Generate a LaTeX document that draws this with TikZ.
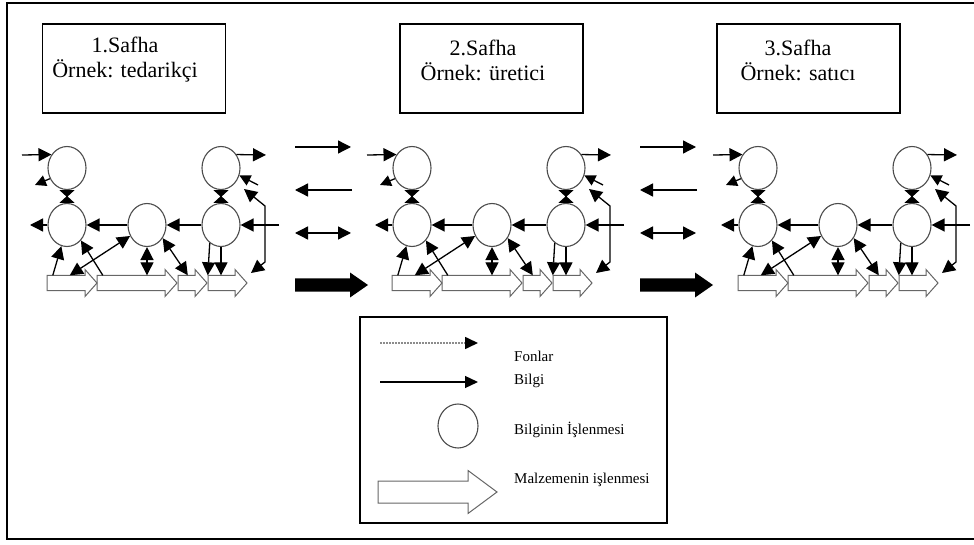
\documentclass[tikz,border=0pt]{standalone}
\usepackage{fontspec}
\setmainfont{Liberation Serif}
\usetikzlibrary{arrows.meta,shapes.geometric,calc}

% material flow arrow: name, x start, x tip, y centre, body half height, head half height, head length
\newcommand\matarr[7]{%
  \node[inner sep=0pt, minimum width={#3-#2}, minimum height={2*#5}] (#1) at ({(#2+#3)/2},#4) {};
  \draw[mat] (#2,#4-#5) -- (#3-#7,#4-#5) -- (#3-#7,#4-#6) -- (#3,#4)
    -- (#3-#7,#4+#6) -- (#3-#7,#4+#5) -- (#2,#4+#5) -- cycle;}

\tikzset{
  proc/.style={ellipse, draw=black!70, line width=1.1pt, fill=white,
    minimum width=38pt, minimum height=43pt, inner sep=0pt},
  info/.style={line width=1.3pt, -{Triangle[length=13pt,width=13pt]}},
  small/.style={line width=1.3pt, -{Triangle[length=11pt,width=11pt]}},
  infoboth/.style={line width=1.3pt,
    {Triangle[length=13pt,width=13pt]}-{Triangle[length=13pt,width=13pt]}},
  pinch/.style={line width=1.3pt,
    {Triangle[reversed,length=7pt,width=15pt]}-{Triangle[reversed,length=7pt,width=15pt]}},
  mat/.style={draw=black!60, line width=1pt, fill=white, line join=miter},
  stagebox/.style={draw, line width=1.7pt, minimum width=183pt,
    minimum height=89pt, inner sep=0pt},
  stagetext/.style={align=center, inner sep=0pt,
    font=\fontsize{22}{25}\selectfont},
  legtext/.style={anchor=west, inner sep=0pt,
    font=\fontsize{15}{17}\selectfont},
  funds/.style={draw=black!45, line width=1.6pt, dash pattern=on 2pt off 1pt,
    -{Triangle[length=13pt,width=12pt,black]}},
}

\begin{document}
\begin{tikzpicture}[x=1pt, y=-1pt]
\useasboundingbox (0,0) rectangle (974,545);
\clip (0,0) rectangle (974,545);

% outer frame
\draw[line width=1.8pt] (7,3) rectangle (990,539);

% stage headings
\node[stagebox] (box1) at (134,68.5) {};
\node[stagetext] (lbl1) at (125,60) {1.Safha\\Örnek: tedarikçi};
\node[stagebox] (box2) at (491.5,68.5) {};
\node[stagetext] (lbl2) at (483,60) {2.Safha\\Örnek: üretici};
\node[stagebox] (box3) at (808.5,68.5) {};
\node[stagetext] (lbl3) at (798,60) {3.Safha\\Örnek: satıcı};

% one stage of the chain
\foreach \s/\dx in {1/0, 2/345, 3/691} {
\begin{scope}[xshift=\dx]
  \matarr{a4\s}{208}{247}{283}{7.5}{13.5}{12}
  \matarr{a3\s}{178}{207}{283}{7.5}{13.5}{12}
  \matarr{a2\s}{97}{177}{283}{7.5}{13.5}{12}
  \matarr{a1\s}{47}{97}{283}{7.5}{13.5}{12}

  \node[proc] (tl\s) at (67,168) {};
  \node[proc] (bl\s) at (67,225) {};
  \node[proc] (m\s)  at (147,225) {};
  \node[proc] (tr\s) at (221,168) {};
  \node[proc] (br\s) at (221,225) {};

  \coordinate (in\s)  at (22,155);
  \coordinate (tlo\s) at (35,185);
  \coordinate (blo\s) at (30,225);
  \coordinate (bri\s) at (279,225);
  \coordinate (tro\s) at (266,155);
  \coordinate (tri\s) at (258,185);
  \coordinate (lh\s)  at (244,189);
  \coordinate (lt\s)  at (265,206);
  \coordinate (lb\s)  at (265,262);
  \coordinate (le\s)  at (251,273);

  \draw[info] (in\s) -- (tl\s.139);
  \draw[small] (tl\s.212) -- (tlo\s);
  \draw[pinch] (tl\s.south) -- (bl\s.north);
  \draw[info] (bl\s.west) -- (blo\s);
  \draw[info] (m\s.west) -- (bl\s.east);
  \draw[info] (br\s.west) -- (m\s.east);
  \draw[info] (bri\s) -- (br\s.east);
  \draw[pinch] (tr\s.south) -- (br\s.north);
  \draw[info] (tr\s.41) -- (tro\s);
  \draw[small] (tri\s) -- (tr\s.-22);
  \draw[infoboth] (lh\s) -- (lt\s) -- (lb\s) -- (le\s);

  \draw[infoboth] (m\s.213) -- ($(a1\s.north west)+(23,0)$);
  \draw[info] ($(a1\s.north west)+(6,0)$) -- (bl\s.255);
  \draw[info] ($(a2\s.north west)+(6,0)$) -- (bl\s.-48);
  \draw[infoboth] (m\s.south) -- (m\s.south |- a2\s.north);
  \draw[infoboth] (m\s.-40) -- ($(a3\s.north west)+(10,0)$);
  \draw[info] (br\s.south) -- (br\s.south |- a4\s.north);
  \draw[info] (br\s.238) -- (a4\s.north west);
\end{scope}
}

% flows between neighbouring stages
\foreach \g/\dx in {1/0, 2/345} {
\begin{scope}[xshift=\dx]
  \coordinate (fa\g) at (295,147);
  \coordinate (fb\g) at (351,147);
  \coordinate (ba\g) at (352,190);
  \coordinate (bb\g) at (295,190);
  \coordinate (da\g) at (295,233);
  \coordinate (db\g) at (351,233);
  \draw[info] (fa\g) -- (fb\g);
  \draw[info] (ba\g) -- (bb\g);
  \draw[infoboth] (da\g) -- (db\g);
  \fill (295,278.5) -- (350,278.5) -- (350,272.5) -- (368,285) -- (350,297.5)
    -- (350,291.5) -- (295,291.5) -- cycle;
\end{scope}
}

% legend
\draw[line width=1.5pt] (360,317) rectangle (667,523);
\coordinate (lfa) at (380,343);
\coordinate (lfb) at (478,343);
\coordinate (lia) at (380,382);
\coordinate (lib) at (478,382);
\draw[funds] (lfa) -- (lfb);
\draw[info, -{Triangle[length=13pt,width=12pt]}] (lia) -- (lib);
\node[proc, minimum width=40pt, minimum height=44pt] (lc) at (458,426) {};
\matarr{lm}{378}{497}{492}{11}{21.5}{29}
\node[legtext] (t1) at (514,356) {Fonlar};
\node[legtext] (t2) at (514,381) {Bilgi};
\node[legtext] (t3) at (514,430) {Bilginin İşlenmesi};
\node[legtext] (t4) at (514,480) {Malzemenin işlenmesi};
\end{tikzpicture}
\end{document}
